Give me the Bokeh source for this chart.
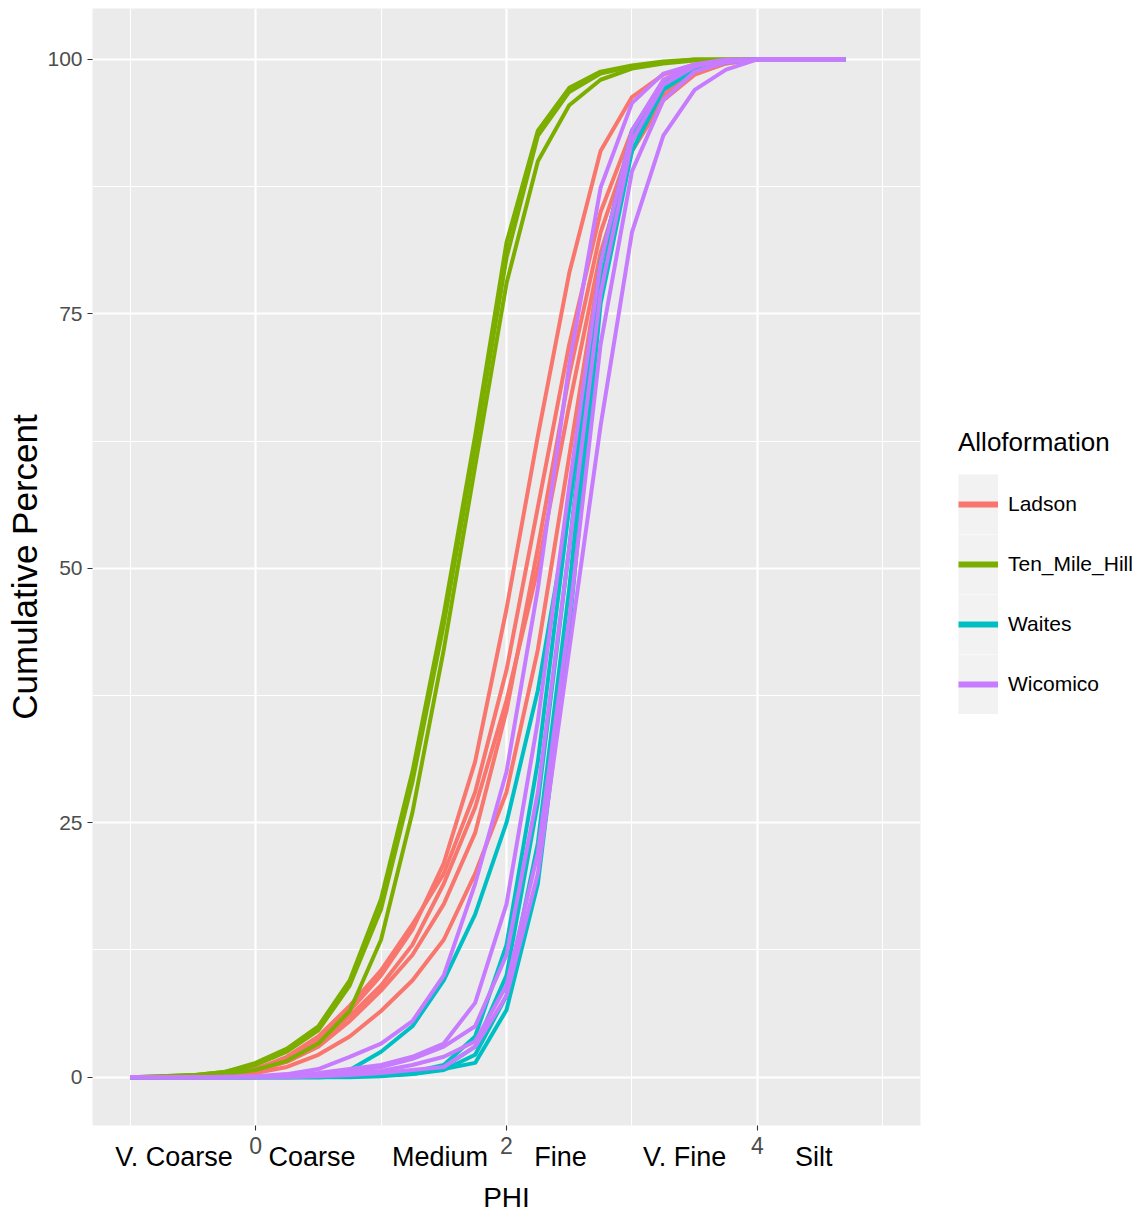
from bokeh.plotting import figure
from bokeh.models import (Range1d, FixedTicker, Legend, LegendItem, LinearAxis,
                          CustomJSTickFormatter, ColumnDataSource)
from bokeh.embed import file_html
from bokeh.resources import INLINE

# Sieve intervals (phi) shared by every sample
phi = [-1.0, -0.75, -0.5, -0.25, 0.0, 0.25, 0.5, 0.75, 1.0, 1.25, 1.5,
       1.75, 2.0, 2.25, 2.5, 2.75, 3.0, 3.25, 3.5, 3.75, 4.0, 4.7]

# Cumulative percent finer than each sieve, one list per sample
ladson = [
    [0, 0, 0.1, 0.3, 0.8, 1.8, 3.6, 6.5, 10, 14.5, 21, 31, 46, 63, 79, 91, 96.3, 98.5, 99.5, 99.9, 100, 100],
    [0, 0, 0.1, 0.3, 0.8, 2.0, 4.0, 7.0, 10.5, 15, 20, 28, 40, 56, 72, 85, 93, 97, 99, 99.7, 100, 100],
    [0, 0, 0.05, 0.2, 0.6, 1.5, 3.0, 5.5, 8.5, 12, 17, 24, 36, 52, 69, 83, 92, 96.5, 98.8, 99.7, 100, 100],
    [0, 0, 0, 0.1, 0.4, 1.0, 2.2, 4.0, 6.5, 9.5, 13.5, 20, 28, 42, 61, 80, 91, 96, 98.5, 99.6, 100, 100],
    [0, 0, 0.05, 0.2, 0.6, 1.6, 3.3, 6.0, 9.0, 13, 19, 26.5, 37, 50, 66, 81, 91, 96, 98.6, 99.6, 100, 100],
]
ten_mile_hill = [
    [0, 0.1, 0.2, 0.5, 1.4, 2.8, 5.0, 9.5, 17.5, 30, 45.5, 63, 82, 93, 97.2, 98.8, 99.4, 99.8, 100, 100, 100, 100],
    [0, 0.1, 0.2, 0.5, 1.2, 2.5, 4.6, 9.0, 16.5, 29, 44.5, 62, 80.5, 92.5, 96.8, 98.6, 99.3, 99.7, 100, 100, 100, 100],
    [0, 0.05, 0.1, 0.3, 0.7, 1.6, 3.3, 6.5, 13.5, 26, 42, 60, 78, 90, 95.5, 98.0, 99.1, 99.6, 99.9, 100, 100, 100],
]
waites = [
    [0, 0, 0, 0, 0, 0.1, 0.3, 0.7, 2.5, 5, 9.5, 16, 25, 38, 56, 80, 92.5, 97.5, 99.3, 99.8, 100, 100],
    [0, 0, 0, 0, 0, 0, 0.05, 0.1, 0.2, 0.4, 1.0, 3.0, 10, 27, 52, 80, 92.8, 97.6, 99.3, 99.8, 100, 100],
    [0, 0, 0, 0, 0, 0, 0, 0.1, 0.2, 0.3, 0.7, 2.2, 8, 23, 48, 78, 92, 97.4, 99.2, 99.8, 100, 100],
    [0, 0, 0, 0, 0, 0, 0, 0, 0.1, 0.3, 0.8, 1.4, 6.6, 19, 44, 76, 91, 97, 99, 99.7, 100, 100],
    [0, 0, 0, 0, 0, 0, 0, 0.1, 0.2, 0.5, 1.2, 4.0, 13, 31, 56, 80, 93, 97.8, 99.4, 99.9, 100, 100],
]
wicomico = [
    [0, 0, 0, 0.05, 0.1, 0.3, 0.8, 2.0, 3.3, 5.5, 10, 19, 30, 48, 70, 87.4, 95.7, 98.6, 99.5, 99.9, 100, 100],
    [0, 0, 0, 0, 0.05, 0.2, 0.4, 0.8, 1.2, 2.0, 3.3, 7.3, 17, 35, 58, 80, 93, 98, 99.5, 100, 100, 100],
    [0, 0, 0, 0, 0.05, 0.1, 0.3, 0.6, 1.0, 1.8, 3.0, 5.0, 12, 28, 52, 77, 92, 97.5, 99.3, 99.9, 100, 100],
    [0, 0, 0, 0, 0, 0.1, 0.2, 0.4, 0.6, 1.2, 2.0, 3.5, 9, 22, 45, 72, 89, 96, 98.8, 99.7, 100, 100],
    [0, 0, 0, 0, 0, 0, 0.1, 0.2, 0.4, 0.7, 1.0, 3.0, 8, 20, 42, 64, 83, 92.5, 97, 99, 100, 100],
]

groups = ["Ladson", "Ten_Mile_Hill", "Waites", "Wicomico"]
group_data = [ladson, ten_mile_hill, waites, wicomico]
group_colors = ["#F8766D", "#7CAE00", "#00BFC4", "#C77CFF"]

# Wentworth size classes written under the phi axis
class_names = ["V. Coarse", "Coarse", "Medium", "Fine", "V. Fine", "Silt"]
class_phi = [-0.65, 0.45, 1.47, 2.43, 3.42, 4.45]

x_ticks = [0, 2, 4]
x_minor = [-1, 1, 3, 5]
y_ticks = [0, 25, 50, 75, 100]
y_minor = [12.5, 37.5, 62.5, 87.5]

FONT = "'Liberation Sans', Arial, sans-serif"

p = figure(frame_width=828, frame_height=1117, output_backend="svg",
           toolbar_location=None,
           x_range=Range1d(-1.3, 5.3), y_range=Range1d(-4.75, 105),
           min_border_left=92, min_border_right=218, min_border_top=8,
           min_border_bottom=95)
p.background_fill_color = "#EBEBEB"
p.border_fill_color = "white"
p.outline_line_color = None

# grid
p.xaxis.ticker = FixedTicker(ticks=x_ticks, minor_ticks=x_minor)
p.yaxis.ticker = FixedTicker(ticks=y_ticks, minor_ticks=y_minor)
for g in (p.xgrid, p.ygrid):
    g.grid_line_color = "white"
    g.grid_line_width = 2.2
    g.minor_grid_line_color = "white"
    g.minor_grid_line_width = 1.1

# numeric axes
for ax in (p.xaxis[0], p.yaxis[0]):
    ax.axis_line_color = None
    ax.major_tick_line_color = "#333333"
    ax.major_tick_line_width = 1.1
    ax.major_tick_in = 0
    ax.major_tick_out = 5
    ax.minor_tick_line_color = None
    ax.major_label_text_font = FONT
    ax.major_label_text_color = "#4D4D4D"
    ax.axis_label_text_font_style = "normal"
    ax.axis_label_text_color = "black"

p.xaxis[0].major_label_text_font_size = "23px"
p.xaxis[0].major_label_standoff = 6
p.yaxis.major_label_text_font_size = "21px"
p.yaxis.major_label_standoff = 5

p.yaxis.axis_label = "Cumulative Percent"
p.yaxis.axis_label_text_font = FONT
p.yaxis.axis_label_text_font_size = "35px"
p.yaxis.axis_label_standoff = 0

# second axis under the numbers: size class names and the PHI title
class_axis = LinearAxis(
    ticker=FixedTicker(ticks=class_phi, minor_ticks=[]),
    formatter=CustomJSTickFormatter(
        args=dict(pos=class_phi, names=class_names),
        code="""
            for (let i = 0; i < pos.length; i++) {
                if (Math.abs(pos[i] - tick) < 1e-6) return names[i];
            }
            return "";
        """),
    axis_label="PHI")
class_axis.axis_line_color = None
class_axis.major_tick_line_color = None
class_axis.minor_tick_line_color = None
class_axis.major_tick_in = 0
class_axis.major_tick_out = 0
class_axis.major_label_text_font = FONT
class_axis.major_label_text_font_size = "27px"
class_axis.major_label_text_color = "black"
class_axis.major_label_standoff = -15
class_axis.axis_label_text_font = FONT
class_axis.axis_label_text_font_size = "28px"
class_axis.axis_label_text_font_style = "normal"
class_axis.axis_label_text_color = "black"
class_axis.axis_label_standoff = 7
p.add_layout(class_axis, "below")

# sample curves
for name, data, color in zip(groups, group_data, group_colors):
    src = ColumnDataSource(dict(xs=[phi] * len(data), ys=data))
    p.multi_line(xs="xs", ys="ys", source=src, line_color=color,
                 line_width=4, line_join="round")

# legend keys: a wide grey stroke as key background and a coloured stroke
key_bg = p.line(x=[0], y=[0], line_color="#F2F2F2", line_width=60)
items = []
for name, color in zip(groups, group_colors):
    key_line = p.line(x=[0], y=[0], line_color=color, line_width=6)
    items.append(LegendItem(label=name, renderers=[key_bg, key_line]))

legend = Legend(items=items, title="Alloformation", location=(38, 411))
legend.title_text_font = FONT
legend.title_text_font_size = "26px"
legend.title_text_font_style = "normal"
legend.title_text_color = "black"
legend.title_standoff = 16
legend.label_text_font = FONT
legend.label_text_font_size = "21px"
legend.label_text_color = "black"
legend.label_standoff = 10
legend.label_height = 60
legend.glyph_width = 40
legend.glyph_height = 60
legend.spacing = 0
legend.padding = 0
legend.margin = 0
legend.border_line_color = None
legend.background_fill_alpha = 0
p.add_layout(legend, "right")

open("out.html", "w").write(file_html(p, INLINE))
